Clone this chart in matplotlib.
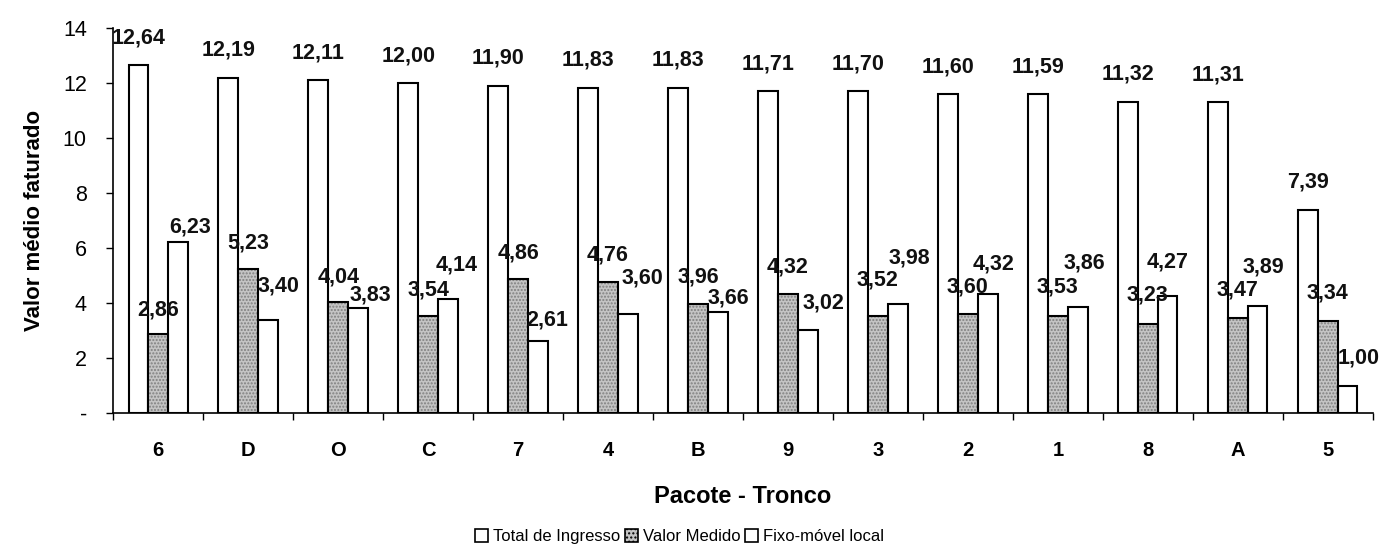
import matplotlib
matplotlib.use("Agg")
import matplotlib.pyplot as plt
import numpy as np
from matplotlib.patches import Patch

plt.rcParams['font.family'] = ['Liberation Sans', 'DejaVu Sans']

categories = ['6', 'D', 'O', 'C', '7', '4', 'B', '9', '3', '2', '1', '8', 'A', '5']
total_ingresso = [12.64, 12.19, 12.11, 12.00, 11.90, 11.83, 11.83, 11.71, 11.70, 11.60, 11.59, 11.32, 11.31, 7.39]
valor_medido = [2.86, 5.23, 4.04, 3.54, 4.86, 4.76, 3.96, 4.32, 3.52, 3.60, 3.53, 3.23, 3.47, 3.34]
fixo_movel = [6.23, 3.40, 3.83, 4.14, 2.61, 3.60, 3.66, 3.02, 3.98, 4.32, 3.86, 4.27, 3.89, 1.00]
series_names = ['Total de Ingresso', 'Valor Medido', 'Fixo-móvel local']
ytick_labels = ['-', '2', '4', '6', '8', '10', '12', '14']

# label layout (offsets in data units, not data)
valor_label_dy = [0.9, 0.95, 0.92, 0.93, 0.96, 0.99, 1.0, 0.98, 1.32, 0.98, 1.05, 1.06, 1.0, 1.02]
fixo_label_dy = [0.53, 1.22, 0.46, 1.24, 0.77, 1.3, 0.52, 0.98, 1.65, 1.1, 1.59, 1.22, 1.42, 1.0]
fixo_label_dx = [0.13, 0.12, 0.14, 0.10, 0.10, 0.16, 0.12, 0.17, 0.13, 0.07, 0.07, 0.0, 0.06, 0.12]

def fmt(v):
    return f"{v:.2f}".replace('.', ',')

fig = plt.figure(figsize=(13.81, 5.5), dpi=100)
ax = fig.add_axes([0.082, 0.249, 0.912, 0.700])

x = np.arange(len(categories))
w = 0.22
lw = 1.5

ax.bar(x - w, total_ingresso, w, facecolor='white', edgecolor='black', linewidth=lw, zorder=2)
# textured grey for Valor Medido
ax.bar(x, valor_medido, w, facecolor='#c4c4c4', edgecolor='#808080', hatch='.....', linewidth=0, zorder=2)
ax.bar(x, valor_medido, w, facecolor='none', edgecolor='black', linewidth=lw, zorder=3)
ax.bar(x + w, fixo_movel, w, facecolor='white', edgecolor='black', linewidth=lw, zorder=2)

lab_kw = dict(ha='center', va='center', fontsize=15.5, fontweight='bold', color='#111111', zorder=5)
for i in range(len(categories)):
    ax.text(x[i] - w, total_ingresso[i] + 1.0, fmt(total_ingresso[i]), **lab_kw)
    ax.text(x[i], valor_medido[i] + valor_label_dy[i], fmt(valor_medido[i]), **lab_kw)
    ax.text(x[i] + w + fixo_label_dx[i], fixo_movel[i] + fixo_label_dy[i], fmt(fixo_movel[i]), **lab_kw)

ax.set_xlim(-0.5, len(categories) - 0.5)
ax.set_ylim(0, 14)
ax.set_yticks(np.arange(0, 15, 2))
ax.set_yticklabels(ytick_labels, fontsize=15.5)

ax.set_xticks(x)
ax.set_xticklabels(categories, fontsize=14.5, fontweight='bold')
ax.tick_params(axis='x', which='major', length=0, pad=20)
ax.set_xticks(np.arange(-0.5, len(categories), 1), minor=True)
ax.tick_params(axis='x', which='minor', length=5, width=1, direction='out')
ax.tick_params(axis='y', length=5, width=1, direction='out', pad=14)

for s in ['top', 'right']:
    ax.spines[s].set_visible(False)
for s in ['left', 'bottom']:
    ax.spines[s].set_linewidth(1.2)

ax.set_xlabel('Pacote - Tronco', fontsize=17, fontweight='bold', labelpad=18)
ax.set_ylabel('Valor médio faturado', fontsize=16, fontweight='bold', labelpad=13)

handles = [Patch(facecolor='white', edgecolor='black', linewidth=1.2),
           Patch(facecolor='#c4c4c4', edgecolor='black', hatch='....', linewidth=1.2),
           Patch(facecolor='white', edgecolor='black', linewidth=1.2)]
fig.legend(handles, series_names, loc='center', bbox_to_anchor=(0.492, 0.024), ncol=3,
           frameon=False, fontsize=12, handlelength=0.75, handleheight=0.75,
           handletextpad=0.3, columnspacing=0.3, borderpad=0)

fig.savefig('out.png', dpi=100)
